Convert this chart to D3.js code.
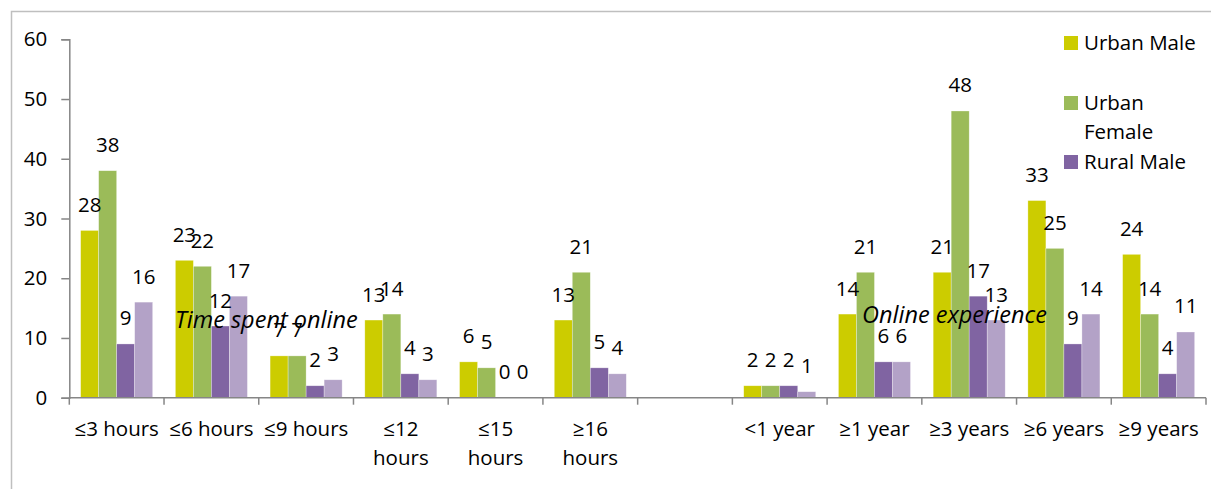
<!DOCTYPE html>
<html>
<head>
<meta charset="utf-8">
<script src="https://cdn.jsdelivr.net/npm/d3@7"></script>
<style>
  body { margin: 0; background: #fff; }
  text { font-family: "Open Sans", sans-serif; fill: #000; }
</style>
</head>
<body>
<div id="chart"></div>
<script>
// categories (the empty one is the gap between the two groups)
const categories = ["≤3 hours", "≤6 hours", "≤9 hours", "≤12\nhours", "≤15\nhours", "≥16\nhours",
    "", "<1 year", "≥1 year", "≥3 years", "≥6 years", "≥9 years"]
const seriesNames = ["Urban Male", "Urban Female", "Rural Male", "Rural Female"]
const urbanMale = [28, 23, 7, 13, 6, 13, null, 2, 14, 21, 33, 24]
const urbanFemale = [38, 22, 7, 14, 5, 21, null, 2, 21, 48, 25, 14]
const ruralMale = [9, 12, 2, 4, 0, 5, null, 2, 6, 17, 9, 4]
const ruralFemale = [16, 17, 3, 3, 0, 4, null, 1, 6, 13, 14, 11]
const yTicks = [0, 10, 20, 30, 40, 50, 60]
// only three legend entries are visible in the original
const legendItems = [["Urban Male"], ["Urban", "Female"], ["Rural Male"]]
const groupLabels = [
    { text: "Time spent online", at: "≤6 hours", dx: 11, v: 11.7 },
    { text: "Online experience", at: "≥1 year", dx: 35, v: 12.5 }
]

const colors = ["#cccc00", "#9bbb59", "#8064a2", "#b3a2c7"]
const width = 1211, height = 489
const values = [urbanMale, urbanFemale, ruralMale, ruralFemale]

const svg = d3.select("#chart").append("svg")
    .attr("width", width)
    .attr("height", height)

// chart area border (left and top only are in frame)
svg.append("path")
    .attr("d", `M11.5,${height} V11.5 H${width}`)
    .attr("fill", "none")
    .attr("stroke", "#bfbfbf")
    .attr("stroke-width", 1.5)

const x = d3.scaleBand()
    .domain(d3.range(categories.length))
    .range([69.3, 1206])

const x1 = d3.scaleBand()
    .domain(seriesNames)
    .range([0, x.bandwidth()])
    .paddingOuter(0.63)

const y = d3.scaleLinear()
    .domain([0, 60])
    .range([397.7, 39.3])

const g = svg.append("g")

// bars
const groups = g.selectAll(".cat")
    .data(categories.map((c, i) => i))
    .enter()
    .append("g")
    .attr("class", "cat")
    .attr("transform", i => `translate(${x(i)},0)`)

groups.selectAll("rect")
    .data(i => seriesNames.map((s, k) => ({ s: s, k: k, v: values[k][i] })).filter(d => d.v !== null))
    .enter()
    .append("rect")
    .attr("x", d => x1(d.s))
    .attr("width", x1.bandwidth())
    .attr("y", d => y(d.v))
    .attr("height", d => y(0) - y(d.v))
    .attr("fill", d => colors[d.k])
    .attr("stroke", "#ffffff")
    .attr("stroke-opacity", 0.5)
    .attr("stroke-width", 0.6)

// data labels
groups.selectAll(".lbl")
    .data(i => seriesNames.map((s, k) => ({ s: s, k: k, v: values[k][i] })).filter(d => d.v !== null))
    .enter()
    .append("text")
    .attr("class", "lbl")
    .attr("x", d => x1(d.s) + x1.bandwidth() / 2)
    .attr("y", d => y(d.v) - 18.5)
    .attr("text-anchor", "middle")
    .style("font-size", "20.5px")
    .text(d => d.v)

// group annotations (drawn over the labels, as in the original)
g.selectAll(".grp")
    .data(groupLabels)
    .enter()
    .append("text")
    .attr("class", "grp")
    .attr("x", d => x(categories.indexOf(d.at)) + d.dx)
    .attr("y", d => y(d.v))
    .style("font-style", "italic")
    .style("font-size", "23.5px")
    .text(d => d.text)

// y axis
const yAxis = g.append("g")
    .attr("transform", `translate(${x.range()[0]},0)`)
    .call(d3.axisLeft(y).tickValues(yTicks).tickSize(8).tickPadding(14))
yAxis.select(".domain").attr("stroke", "#868686").attr("stroke-width", 1.5)
yAxis.selectAll(".tick line").attr("stroke", "#868686").attr("stroke-width", 1.5)
yAxis.selectAll(".tick text")
    .style("font-size", "20.5px")
    .style("font-family", "'Open Sans', sans-serif")
    .attr("fill", "#000")

// x axis
const xAxis = g.append("g")
    .attr("transform", `translate(0,${y(0)})`)
xAxis.append("line")
    .attr("x1", x.range()[0])
    .attr("x2", x.range()[1])
    .attr("stroke", "#868686")
    .attr("stroke-width", 1.5)
xAxis.selectAll(".xt")
    .data(d3.range(categories.length + 1))
    .enter()
    .append("line")
    .attr("class", "xt")
    .attr("x1", i => x.range()[0] + i * x.step())
    .attr("x2", i => x.range()[0] + i * x.step())
    .attr("y1", 0)
    .attr("y2", 7)
    .attr("stroke", "#868686")
    .attr("stroke-width", 1.5)

const xl = xAxis.selectAll(".xl")
    .data(categories.map((c, i) => i))
    .enter()
    .append("text")
    .attr("class", "xl")
    .attr("text-anchor", "middle")
    .attr("transform", i => `translate(${x(i) + x.bandwidth() / 2},38.5)`)
    .style("font-size", "20.5px")
xl.selectAll("tspan")
    .data(i => categories[i].split("\n"))
    .enter()
    .append("tspan")
    .attr("x", 0)
    .attr("y", (d, j) => j * 28.5)
    .text(d => d)

// legend
const legend = svg.append("g").attr("transform", "translate(1064,0)")
const rowY = [43, 103, 162]
legendItems.forEach((lines, k) => {
    legend.append("rect")
        .attr("x", 0)
        .attr("y", rowY[k] - 7)
        .attr("width", 14)
        .attr("height", 14)
        .attr("fill", colors[k])
    const t = legend.append("text")
        .attr("x", 20)
        .attr("y", rowY[k] + 7)
        .style("font-size", "20.5px")
    lines.forEach((line, j) => {
        t.append("tspan")
            .attr("x", 20)
            .attr("dy", j === 0 ? 0 : 29)
            .text(line)
    })
})
</script>
</body>
</html>
